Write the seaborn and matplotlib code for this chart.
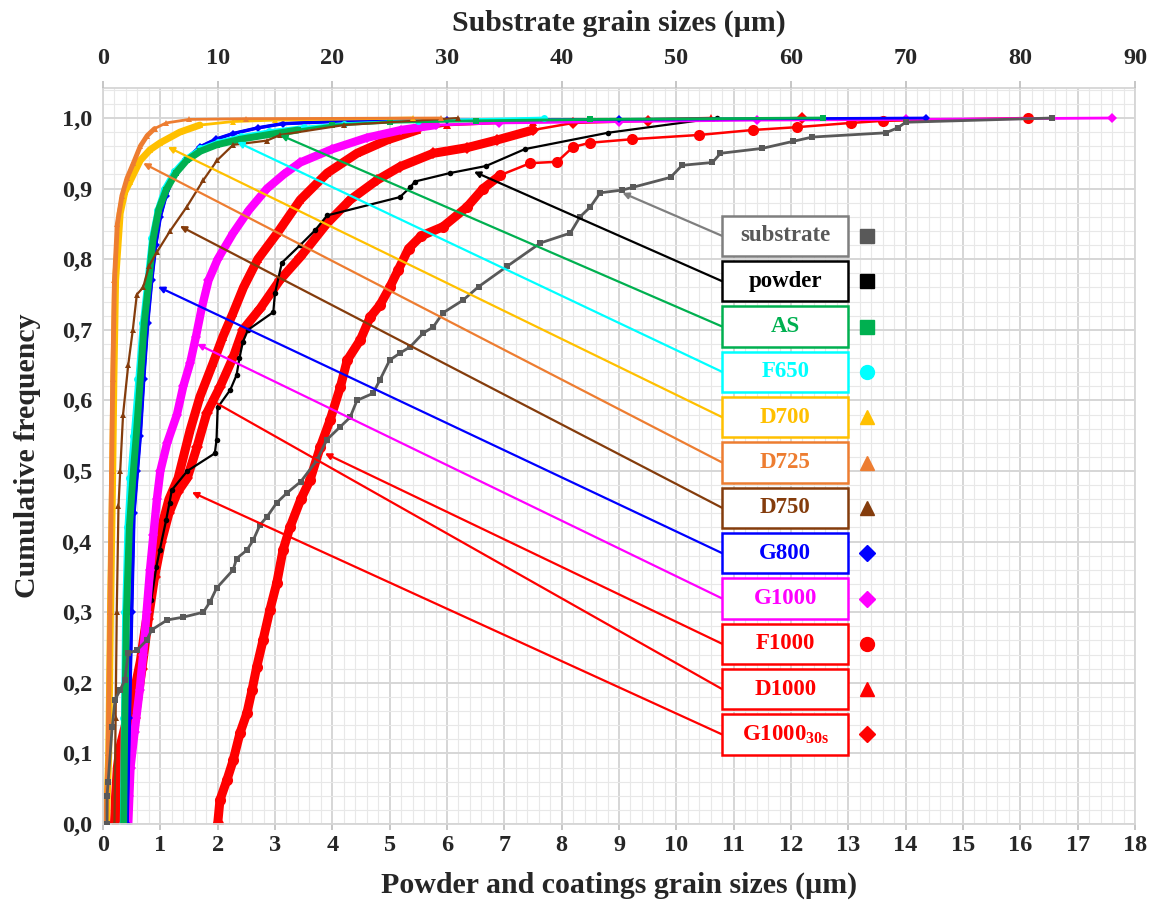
import matplotlib
matplotlib.use("Agg")
import matplotlib.pyplot as plt
import seaborn as sns
import pandas as pd
from matplotlib.patches import Rectangle
from matplotlib.ticker import MultipleLocator, FixedLocator, FixedFormatter

# ---------------- data ----------------
# substrate is given in substrate units (top axis, 0-90 um)
substrate_x = [0.35, 0.35, 0.45, 0.8, 1.05, 1.5, 1.9, 2.2, 2.95, 3.8, 4.25, 5.6, 7.0, 8.75, 9.35, 9.9,
               11.35, 11.65, 12.55, 13.1, 13.7, 14.3, 15.15, 16.05, 17.25, 18.65, 19.5, 20.65, 21.55,
               22.15, 23.55, 24.15, 25.0, 25.9, 26.8, 27.9, 28.8, 29.65, 31.4, 32.75, 35.25, 38.15,
               40.75, 41.6, 42.5, 43.35, 45.3, 46.25, 49.5, 50.5, 53.15, 53.85, 57.5, 60.2, 61.85,
               68.25, 69.3, 70.0, 82.8]
substrate_y = [0.0, 0.04, 0.06, 0.137, 0.176, 0.19, 0.204, 0.242, 0.246, 0.26, 0.275, 0.289, 0.293, 0.30,
               0.315, 0.334, 0.36, 0.376, 0.388, 0.402, 0.424, 0.435, 0.455, 0.469, 0.485, 0.515, 0.544,
               0.562, 0.576, 0.60, 0.61, 0.629, 0.657, 0.667, 0.676, 0.695, 0.704, 0.724, 0.742, 0.761,
               0.79, 0.823, 0.837, 0.86, 0.874, 0.894, 0.898, 0.902, 0.916, 0.933, 0.937, 0.95, 0.957,
               0.967, 0.973, 0.979, 0.986, 0.994, 1.0]

powder_x = [0.44, 0.45, 0.46, 0.49, 0.52, 0.56, 0.61, 0.63, 0.70, 0.73, 0.79, 0.84, 0.93, 0.99, 1.10,
            1.16, 1.20, 1.47, 1.95, 1.98, 2.0, 2.22, 2.33, 2.38, 2.44, 2.53, 2.97, 3.0, 3.12, 3.44,
            3.7, 3.91, 5.18, 5.36, 5.44, 6.05, 6.68, 7.36, 8.8, 10.71]
powder_y = [0.022, 0.04, 0.07, 0.11, 0.13, 0.157, 0.18, 0.20, 0.24, 0.26, 0.30, 0.317, 0.364, 0.388,
            0.43, 0.455, 0.473, 0.50, 0.525, 0.544, 0.59, 0.615, 0.636, 0.66, 0.683, 0.70, 0.725,
            0.752, 0.795, 0.82, 0.841, 0.862, 0.888, 0.902, 0.91, 0.922, 0.932, 0.956, 0.979, 1.0]

as_x = [0.36, 0.38, 0.41, 0.46, 0.52, 0.58, 0.65, 0.72, 0.8, 0.87, 0.97, 1.1, 1.27, 1.46, 1.7, 1.98,
        2.4, 2.85, 3.4, 4.0, 5.0, 6.5, 8.5, 12.55]
as_y = [0.0, 0.15, 0.3, 0.42, 0.49, 0.55, 0.63, 0.71, 0.77, 0.827, 0.87, 0.898, 0.922, 0.94, 0.953,
        0.962, 0.97, 0.976, 0.983, 0.99, 0.994, 0.996, 0.998, 1.0]

f650_x = [0.33, 0.35, 0.37, 0.41, 0.46, 0.52, 0.6, 0.68, 0.76, 0.84, 0.94, 1.06, 1.24, 1.44, 1.7, 2.0,
          2.4, 2.9, 3.5, 4.2, 5.5, 7.7]
f650_y = [0.0, 0.15, 0.3, 0.42, 0.49, 0.55, 0.63, 0.71, 0.77, 0.83, 0.87, 0.9, 0.925, 0.943, 0.957,
          0.966, 0.974, 0.981, 0.987, 0.992, 0.996, 1.0]

d700_x = [0.06, 0.1, 0.13, 0.17, 0.19, 0.22, 0.3, 0.38, 0.47, 0.65, 0.82, 1.0, 1.34, 1.69, 2.27, 3.0, 5.4]
d700_y = [0.0, 0.1, 0.3, 0.5, 0.63, 0.77, 0.865, 0.895, 0.91, 0.94, 0.955, 0.965, 0.98, 0.99, 0.995,
          0.997, 1.0]

d725_x = [0.05, 0.09, 0.12, 0.15, 0.17, 0.2, 0.25, 0.33, 0.42, 0.53, 0.65, 0.77, 0.9, 1.1, 1.5, 2.5, 5.9]
d725_y = [0.0, 0.1, 0.3, 0.5, 0.63, 0.77, 0.85, 0.89, 0.915, 0.936, 0.96, 0.975, 0.985, 0.993, 0.998,
          0.999, 1.0]

d750_x = [0.2, 0.22, 0.24, 0.27, 0.3, 0.35, 0.44, 0.52, 0.59, 0.7, 0.8, 0.94, 1.17, 1.46, 1.75, 1.99,
          2.27, 2.86, 3.09, 4.2, 6.2]
d750_y = [0.0, 0.15, 0.3, 0.45, 0.5, 0.58, 0.65, 0.70, 0.75, 0.76, 0.79, 0.81, 0.84, 0.874, 0.912,
          0.94, 0.962, 0.968, 0.976, 0.99, 1.0]

g800_x = [0.42, 0.46, 0.5, 0.54, 0.6, 0.65, 0.71, 0.78, 0.85, 0.92, 1.0, 1.1, 1.25, 1.45, 1.69, 1.97,
          2.27, 2.7, 3.14, 4.0, 6.0, 9.0, 14.36]
g800_y = [0.0, 0.15, 0.3, 0.44, 0.5, 0.55, 0.63, 0.71, 0.77, 0.82, 0.86, 0.89, 0.92, 0.942, 0.959,
          0.97, 0.978, 0.986, 0.992, 0.995, 0.997, 0.998, 1.0]

g1000_x = [0.44, 0.46, 0.48, 0.55, 0.64, 0.7, 0.76, 0.82, 0.88, 0.94, 1.0, 1.12, 1.29, 1.4, 1.52, 1.62,
           1.72, 1.84, 2.0, 2.27, 2.55, 2.86, 3.15, 3.44, 4.0, 4.6, 5.2, 5.8, 6.9, 9.0, 11.4, 14.0, 17.6]
g1000_y = [0.0, 0.04, 0.08, 0.13, 0.19, 0.24, 0.3, 0.36, 0.41, 0.46, 0.5, 0.54, 0.58, 0.62, 0.653, 0.69,
           0.73, 0.77, 0.8, 0.837, 0.87, 0.9, 0.92, 0.937, 0.956, 0.972, 0.983, 0.99, 0.993, 0.995,
           0.997, 0.998, 1.0]

f1000_x = [2.0, 2.04, 2.16, 2.27, 2.39, 2.51, 2.6, 2.68, 2.79, 2.91, 3.03, 3.14, 3.26, 3.45, 3.61, 3.79,
           3.96, 4.14, 4.26, 4.49, 4.66, 4.83, 5.0, 5.15, 5.33, 5.55, 5.93, 6.35, 6.63, 6.93, 7.45,
           7.92, 8.2, 8.5, 9.23, 10.4, 11.33, 12.1, 13.04, 13.61, 16.14]
f1000_y = [0.0, 0.034, 0.062, 0.09, 0.129, 0.157, 0.19, 0.222, 0.26, 0.303, 0.341, 0.388, 0.42, 0.46,
           0.487, 0.534, 0.572, 0.619, 0.657, 0.686, 0.718, 0.735, 0.76, 0.785, 0.815, 0.833, 0.846,
           0.874, 0.9, 0.919, 0.936, 0.938, 0.959, 0.965, 0.97, 0.976, 0.983, 0.987, 0.993, 0.996, 1.0]

d1000_x = [0.20, 0.22, 0.25, 0.3, 0.42, 0.55, 0.65, 0.74, 0.82, 0.92, 1.02, 1.15, 1.31, 1.52, 1.69,
           1.92, 2.09, 2.27, 2.45, 2.7, 3.04, 3.44, 3.91, 4.43, 4.96, 5.48, 6.0, 7.5, 10.6]
d1000_y = [0.0, 0.04, 0.08, 0.11, 0.15, 0.19, 0.23, 0.28, 0.32, 0.37, 0.42, 0.46, 0.49, 0.558, 0.605,
           0.653, 0.69, 0.724, 0.76, 0.8, 0.837, 0.884, 0.922, 0.95, 0.969, 0.983, 0.99, 0.995, 1.0]

g1000s_x = [0.32, 0.38, 0.46, 0.56, 0.68, 0.79, 0.9, 1.02, 1.15, 1.3, 1.47, 1.64, 1.81, 2.04, 2.27, 2.44,
            2.74, 3.09, 3.44, 3.91, 4.31, 4.78, 5.18, 5.76, 6.35, 6.88, 7.5, 8.2, 9.5, 12.2]
g1000s_y = [0.0, 0.05, 0.1, 0.15, 0.22, 0.29, 0.35, 0.40, 0.44, 0.47, 0.49, 0.534, 0.582, 0.619, 0.661,
            0.70, 0.73, 0.771, 0.803, 0.851, 0.884, 0.912, 0.931, 0.95, 0.958, 0.969, 0.983, 0.993,
            0.996, 1.0]

series_names = ["substrate", "powder", "AS", "F650", "D700", "D725", "D750",
                "G800", "G1000", "F1000", "D1000", "G1000_30s"]
legend_labels = ["substrate", "powder", "AS", "F650", "D700", "D725", "D750",
                 "G800", "G1000", "F1000", "D1000", r"G1000$_{\mathbf{30s}}$"]

bottom_ticks = list(range(0, 19))
top_ticks = list(range(0, 91, 10))
y_ticks = [0.0, 0.1, 0.2, 0.3, 0.4, 0.5, 0.6, 0.7, 0.8, 0.9, 1.0]
y_tick_labels = ["0,0", "0,1", "0,2", "0,3", "0,4", "0,5", "0,6", "0,7", "0,8", "0,9", "1,0"]

data = {
    "substrate": (substrate_x, substrate_y), "powder": (powder_x, powder_y),
    "AS": (as_x, as_y), "F650": (f650_x, f650_y), "D700": (d700_x, d700_y),
    "D725": (d725_x, d725_y), "D750": (d750_x, d750_y), "G800": (g800_x, g800_y),
    "G1000": (g1000_x, g1000_y), "F1000": (f1000_x, f1000_y), "D1000": (d1000_x, d1000_y),
    "G1000_30s": (g1000s_x, g1000s_y),
}

# ---------------- styles / layout ----------------
styles = {
    "substrate": dict(c="#595959", m="s", ms=4, lw=2.0, thick=0, ymax=0, lm="s"),
    "powder":    dict(c="#000000", m="o", ms=4, lw=1.6, thick=0, ymax=0, lm="s"),
    "AS":        dict(c="#00B050", m="s", ms=5, lw=2.0, thick=5.0, ymax=0.985, lm="s"),
    "F650":      dict(c="#00FFFF", m="o", ms=5, lw=2.0, thick=3.0, ymax=0.99, lm="o"),
    "D700":      dict(c="#FFC000", m="^", ms=5, lw=2.0, thick=5.0, ymax=0.99, lm="^"),
    "D725":      dict(c="#ED7D31", m="^", ms=4, lw=2.0, thick=3.5, ymax=0.99, lm="^"),
    "D750":      dict(c="#843C0C", m="^", ms=4, lw=1.6, thick=0, ymax=0, lm="^"),
    "G800":      dict(c="#0000FF", m="D", ms=4, lw=2.0, thick=2.5, ymax=0.995, lm="D"),
    "G1000":     dict(c="#FF00FF", m="D", ms=5, lw=2.0, thick=6.0, ymax=0.99, lm="D"),
    "F1000":     dict(c="#FF0000", m="o", ms=8, lw=1.8, thick=6.5, ymax=0.93, lm="o"),
    "D1000":     dict(c="#FF0000", m="^", ms=6, lw=1.8, thick=6.5, ymax=0.985, lm="^"),
    "G1000_30s": dict(c="#FF0000", m="D", ms=6, lw=1.8, thick=6.5, ymax=0.985, lm="D"),
}
box_edge = {"substrate": "#7F7F7F", "powder": "#000000"}
text_color = {"substrate": "#595959"}

arrow_tips = {
    "substrate": (9.06, 0.894), "powder": (6.47, 0.924), "AS": (3.09, 0.976),
    "F650": (2.34, 0.966), "D700": (1.13, 0.959), "D725": (0.70, 0.936),
    "D750": (1.34, 0.847), "G800": (0.96, 0.761), "G1000": (1.64, 0.680),
    "F1000": (3.87, 0.525), "D1000": (1.83, 0.603), "G1000_30s": (1.55, 0.470),
}

sns.set_theme(style="white")
plt.rcParams["font.family"] = ["Liberation Serif", "DejaVu Sans"]
plt.rcParams["font.weight"] = "bold"
plt.rcParams["mathtext.fontset"] = "custom"
plt.rcParams["mathtext.rm"] = "Liberation Serif:bold"
plt.rcParams["mathtext.bf"] = "Liberation Serif:bold"

fig = plt.figure(figsize=(11.58, 9.08), dpi=100)
ax = fig.add_axes([103 / 1158, 84 / 908, 1032 / 1158, 736 / 908])
ax.set_xlim(0, 18)
ax.set_ylim(0, 1.0425)

ax.xaxis.set_major_locator(FixedLocator(bottom_ticks))
ax.xaxis.set_minor_locator(MultipleLocator(0.2))
ax.yaxis.set_major_locator(FixedLocator(y_ticks))
ax.yaxis.set_major_formatter(FixedFormatter(y_tick_labels))
ax.yaxis.set_minor_locator(MultipleLocator(0.02))
ax.grid(which="major", color="#D6D6D6", lw=1.4)
ax.grid(which="minor", color="#E8E8E8", lw=0.8)
ax.set_axisbelow(True)
for s in ax.spines.values():
    s.set_color("#D6D6D6")
    s.set_linewidth(1.3)

ax2 = ax.twiny()
ax2.set_xlim(0, 90)
ax2.xaxis.set_major_locator(FixedLocator(top_ticks))
ax2.grid(False)
for s in ax2.spines.values():
    s.set_visible(False)

order = ["substrate", "F1000", "G1000_30s", "D1000", "powder", "G1000", "G800", "F650",
         "AS", "D750", "D700", "D725"]
for name in order:
    xs, ys = data[name]
    st = styles[name]
    target = ax2 if name == "substrate" else ax
    df = pd.DataFrame({"x": xs, "y": ys})
    if st["thick"] > 0:
        dense = df[df["y"] <= st["ymax"]]
        sns.lineplot(data=dense, x="x", y="y", ax=target, color=st["c"], lw=st["thick"],
                     sort=False, estimator=None, solid_capstyle="round")
    sns.lineplot(data=df, x="x", y="y", ax=target, color=st["c"], lw=st["lw"],
                 marker=st["m"], markersize=st["ms"], markeredgewidth=0,
                 sort=False, estimator=None)

ax.set_xlim(0, 18)
ax.set_ylim(0, 1.0425)
ax2.set_xlim(0, 90)

ax.tick_params(axis="both", which="major", length=4, color="#BFBFBF", labelsize=17.5, pad=4)
ax.tick_params(axis="both", which="minor", length=0)
ax2.tick_params(axis="x", which="major", length=5, color="#BFBFBF", labelsize=17.5, pad=9)
ax2.tick_params(axis="x", which="minor", length=0)
for lab in ax.get_xticklabels() + ax.get_yticklabels() + ax2.get_xticklabels():
    lab.set_fontweight("bold")

ax.set_xlabel("Powder and coatings grain sizes (µm)", fontsize=21.5, fontweight="bold", labelpad=11)
ax.set_ylabel("Cumulative frequency", fontsize=21.5, fontweight="bold", labelpad=15)
ax2.set_xlabel("Substrate grain sizes (µm)", fontsize=21.5, fontweight="bold", labelpad=12)

box_x0, box_x1 = 10.80, 13.0
box_h = 0.057
y_first, y_step = 0.833, 0.0642
marker_x = 13.32
for i, (name, label) in enumerate(zip(series_names, legend_labels)):
    st = styles[name]
    yc = y_first - i * y_step
    ec = box_edge.get(name, st["c"])
    tc = text_color.get(name, st["c"])
    ax2.add_patch(Rectangle((box_x0, yc - box_h / 2), box_x1 - box_x0, box_h,
                            transform=ax.transData, facecolor="white", edgecolor=ec,
                            lw=1.8, zorder=20))
    ax2.text((box_x0 + box_x1) / 2, yc, label, transform=ax.transData, ha="center",
             va="center", fontsize=16.5, fontweight="bold", color=tc, zorder=21)
    ax2.plot([marker_x], [yc], transform=ax.transData, marker=st["lm"], color=st["c"],
             markersize=10 if st["lm"] != "D" else 8, linestyle="none", zorder=21)
    tx, ty = arrow_tips[name]
    lc = "#7F7F7F" if name == "substrate" else st["c"]
    ax2.annotate("", xy=(tx, ty), xycoords=ax.transData, xytext=(box_x0, yc),
                 textcoords=ax.transData,
                 arrowprops=dict(arrowstyle="-|>", color=lc, lw=1.6, mutation_scale=9,
                                 shrinkA=0, shrinkB=0), zorder=19)

fig.savefig("out.png", dpi=100)
